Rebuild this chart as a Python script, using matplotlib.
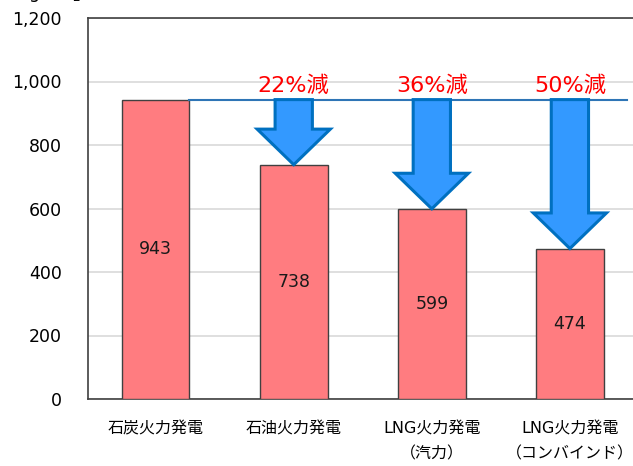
import matplotlib
matplotlib.use('Agg')
import matplotlib.pyplot as plt
from matplotlib.patches import FancyArrow

plt.rcParams['font.family'] = ['DejaVu Sans', 'Noto Sans CJK JP']

# CO2 emission intensity by power source
categories = ['石炭火力発電', '石油火力発電', 'LNG火力発電\n（汽力）', 'LNG火力発電\n（コンバインド）']
values = [943, 738, 599, 474]
cuts = ['', '22%減', '36%減', '50%減']
yticks = [0, 200, 400, 600, 800, 1000, 1200]

fig = plt.figure(figsize=(6.33, 4.66), dpi=100)
ax = fig.add_axes([88/633, 67/466, 1 - 88/633, 381/466])

x = list(range(len(values)))
ax.bar(x, values, width=0.49, color='#FF7C80', edgecolor='#404040', linewidth=1.0, zorder=3)

ax.set_xlim(-0.49, 3.457)
ax.set_ylim(0, 1200)
ax.set_yticks(yticks)
ax.set_yticklabels([f'{t:,}' for t in yticks], fontsize=12.5)
ax.set_xticks(x)
ax.set_xticklabels(categories, fontsize=11.5, linespacing=1.8, va='top')
ax.tick_params(axis='y', length=0, pad=19)
ax.tick_params(axis='x', length=0, pad=16)
ax.grid(axis='y', color='#D9D9D9', linewidth=1.2, zorder=0)
ax.set_axisbelow(True)
for s in ['left', 'bottom', 'top']:
  ax.spines[s].set_color('#404040')
  ax.spines[s].set_linewidth(1.2)
ax.spines['right'].set_visible(False)

# reference level of coal
base = values[0]
ax.plot([0.245, 3.413], [base, base], color='#2E75B6', linewidth=1.5, zorder=4)

for i, v in enumerate(values):
  ax.text(i, v / 2, str(v), ha='center', va='center', fontsize=12.5, color='#1a1a1a', zorder=6)
  if i == 0:
    continue
  ax.add_patch(FancyArrow(i, base, 0, -(base - v), width=0.27, head_width=0.53,
                          head_length=112, length_includes_head=True,
                          fc='#3399FF', ec='#0070C0', linewidth=2.2, zorder=5))
  ax.text(i, base + 12, cuts[i], ha='center', va='bottom', fontsize=16, color='#FF0000', zorder=6)

fig.text(22/633, 1 + 1.5/466, '(g-CO$_2$/kWh)', fontsize=12.5, va='baseline', ha='left')

fig.savefig('out.png', dpi=100)
